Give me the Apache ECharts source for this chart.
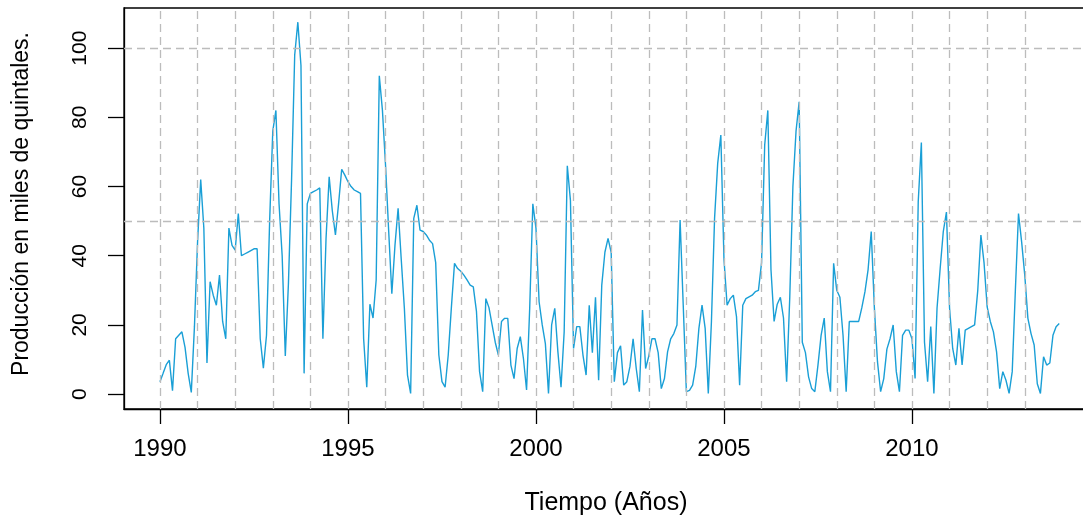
<!DOCTYPE html>
<html>
<head>
<meta charset="utf-8">
<script src="https://cdn.jsdelivr.net/npm/echarts@6/dist/echarts.min.js"></script>
<style>
  html, body { margin: 0; padding: 0; background: #fff; overflow: hidden; width: 1083px; height: 520px; }
  #chart { width: 1100px; height: 520px; }
</style>
</head>
<body>
<div id="chart"></div>
<script>
// Monthly production (thousands of quintals), Jan 1990 - Dec 2013
const startYear = 1990;
const monthly = [
  [3.6, 6, 8.5, 9.8, 1, 16, 17, 18, 13.5, 6, 0.5, 19.5],          // 1990
  [44, 62, 48, 9, 32.5, 28.6, 25.7, 34.4, 21, 16, 48, 43],          // 1991
  [41.6, 52.2, 40, 40.5, 41, 41.5, 42, 42, 16, 7.5, 17, 50],        // 1992
  [76, 82, 55, 40, 11, 32, 62, 98, 107.5, 95, 6, 55],               // 1993
  [58, 58.5, 59, 59.6, 16, 45, 62.8, 53, 46, 55, 65, 63.3],         // 1994
  [61.4, 60, 59, 58.5, 58, 16, 2, 26, 22, 33, 92, 82],              // 1995
  [66, 47, 29, 43, 53.7, 39, 24.8, 5.5, 0.2, 50.8, 54.6, 47.4],     // 1996
  [47, 46, 44.5, 43.5, 38, 11.3, 3.6, 2, 11.3, 25, 37.8, 36.3],     // 1997
  [35.5, 34.4, 33, 31.5, 31, 24, 6.5, 0.7, 27.6, 25, 20, 15],       // 1998
  [11.3, 21, 21.9, 21.9, 8.4, 4.5, 13.2, 16.6, 10.3, 1.2, 24.8, 55],// 1999
  [48, 26.7, 20, 14.6, 0.2, 20, 24.8, 12.2, 2, 18, 66, 56],         // 2000
  [13.2, 19.5, 19.5, 11.3, 5.5, 25.7, 12, 28, 4, 31.5, 41, 45],     // 2001
  [41, 3.6, 12, 14, 2.6, 3.6, 8, 16, 7.4, 0.7, 24.3, 7.4],          // 2002
  [11, 16, 16, 12, 1.6, 4.5, 12.2, 16, 17.5, 20, 50.3, 25.7],       // 2003
  [0.7, 1.1, 2.6, 8, 19, 25.7, 19, 0.2, 21, 50.8, 66.7, 74.9],      // 2004
  [39, 25.7, 27.6, 28.6, 22.4, 2.6, 25.7, 27.6, 28.1, 28.6, 29.6, 30], // 2005
  [38, 72, 82, 36, 21, 26, 28, 22, 3.6, 28, 60, 76],                // 2006
  [84.5, 15, 12, 5, 1.6, 0.7, 8.4, 17, 22, 6.5, 0.7, 37.8],         // 2007
  [30, 28, 17, 0.7, 21, 21, 21, 21, 25, 29.6, 36, 47],              // 2008
  [25, 9.3, 0.7, 4.5, 13, 16, 20, 6.5, 0.7, 17, 18.5, 18.5],        // 2009
  [16, 4.5, 55.6, 72.7, 15, 3.6, 19.5, 0.2, 24.8, 36.3, 47, 52.6],  // 2010
  [24.8, 13.2, 8.4, 19, 8.4, 18.5, 19, 19.5, 20, 30, 46, 38],       // 2011
  [25.2, 21, 18, 12.2, 1.6, 6.5, 4, 0.2, 6.5, 30, 52.2, 44],        // 2012
  [34.4, 21.9, 17.5, 14.2, 3, 0.2, 10.8, 8.4, 9, 17, 19.5, 20.4]    // 2013
];
const xTickYears = [1990, 1995, 2000, 2005, 2010];
const yTickValues = [0, 20, 40, 60, 80, 100];
const gridYears = [1990, 1991, 1992, 1993, 1994, 1995, 1996, 1997, 1998, 1999, 2000, 2001,
                   2002, 2003, 2004, 2005, 2006, 2007, 2008, 2009, 2010, 2011, 2012, 2013];
const gridLevels = [50, 100];

const seriesData = [];
monthly.forEach(function (arr, yi) {
  arr.forEach(function (v, mi) { seriesData.push([startYear + yi + mi / 12, v]); });
});

const FONT = '"Liberation Sans", Arial, sans-serif';
const gridLineStyle = { color: '#bcbcbc', type: [8, 5], width: 1.3 };

const markData = gridYears.map(function (y) { return { xAxis: y }; })
  .concat(gridLevels.map(function (v) { return { yAxis: v }; }));

const chart = echarts.init(document.getElementById('chart'), null, { renderer: 'canvas' });
chart.setOption({
  animation: false,
  backgroundColor: '#ffffff',
  grid: {
    left: 124, top: 8, width: 971.2, height: 401,
    show: true, borderColor: '#000', borderWidth: 1.3, backgroundColor: 'transparent'
  },
  xAxis: {
    type: 'value',
    min: 1989.0433, max: 2014.8733,
    axisLine: { show: true, onZero: false, lineStyle: { color: '#000', width: 1.3 } },
    axisTick: { show: true, length: 15, customValues: xTickYears, lineStyle: { color: '#000', width: 1.3 } },
    axisLabel: { customValues: xTickYears, fontSize: 24, fontFamily: FONT, color: '#000', margin: 28,
                 formatter: function (v) { return String(Math.round(v)); } },
    splitLine: { show: false }
  },
  yAxis: {
    type: 'value',
    min: -4.3, max: 111.6,
    axisLine: { show: true, onZero: false, lineStyle: { color: '#000', width: 1.3 } },
    axisTick: { show: true, length: 16, customValues: yTickValues, lineStyle: { color: '#000', width: 1.3 } },
    axisLabel: { customValues: yTickValues, rotate: 90, fontSize: 21, fontFamily: FONT, color: '#000', margin: 33 },
    splitLine: { show: false }
  },
  graphic: [
    { type: 'text', x: 606, y: 503, z: 10,
      style: { text: 'Tiempo (Años)', font: '25px ' + FONT, fill: '#000', align: 'center', verticalAlign: 'middle' } },
    { type: 'text', x: 22, y: 204, rotation: Math.PI / 2, z: 10,
      style: { text: 'Producción en miles de quintales.', font: '23px ' + FONT, fill: '#000', align: 'center', verticalAlign: 'middle' } }
  ],
  series: [
    {
      type: 'line', data: [], z: 1, silent: true,
      markLine: { silent: true, symbol: ['none', 'none'], label: { show: false },
                  lineStyle: gridLineStyle, emphasis: { disabled: true }, data: markData, animation: false }
    },
    {
      type: 'line', data: seriesData, z: 3, showSymbol: false, symbol: 'none',
      lineStyle: { color: '#1a9fd6', width: 1.4 }, clip: true
    }
  ]
});
</script>
</body>
</html>
